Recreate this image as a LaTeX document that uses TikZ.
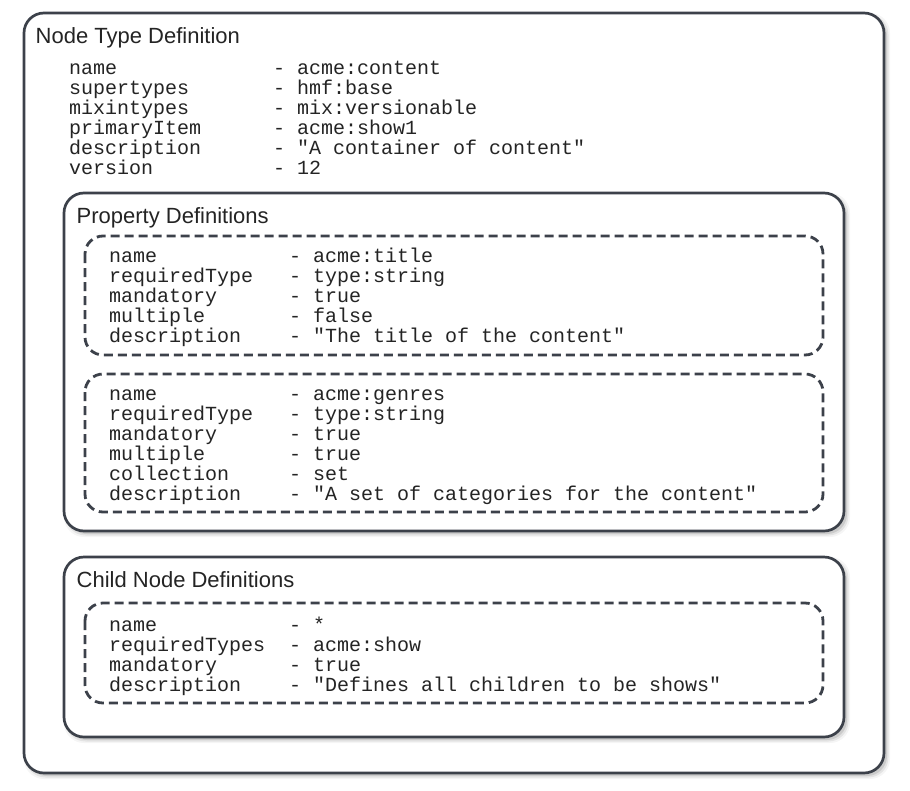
\documentclass[tikz,border=0pt]{standalone}
\usepackage{fontspec}
\setmainfont{Liberation Sans}
\setmonofont{Liberation Mono}
\definecolor{edge}{HTML}{3C414A}
\definecolor{ink}{HTML}{242424}
\tikzset{
  panel/.style={draw=edge, line width=2.7pt, fill=white, rounded corners=20pt},
  group/.style={draw=edge, line width=2.8pt, dash pattern=on 9pt off 5pt, rounded corners=18pt},
  heading/.style={anchor=base west, inner sep=0pt, font=\fontsize{22}{22}\selectfont, text=ink},
  mono/.style={anchor=base west, inner sep=0pt, font=\ttfamily\fontsize{20}{20}\selectfont, text=ink},
}
\newcommand\softshadow[4]{%
  \foreach \k/\o in {0/0.10, 1.5/0.07, 3/0.04}{%
    \fill[black, opacity=\o, rounded corners=20pt] ({#1+3-\k},{#2+3-\k}) rectangle ({#3+3+\k},{#4+3+\k});
  }%
}
\begin{document}
\begin{tikzpicture}[x=1pt, y=-1pt]
\useasboundingbox[fill=white] (0,0) rectangle (910,790);

% outer panel
\softshadow{24}{13}{884}{773}
\draw[panel] (24,13) rectangle (884,773);
\node[heading] (t0) at (35.5,43.3) {Node Type Definition};
\foreach \i/\lab/\val in {0/name/acme:content, 1/supertypes/hmf:base, 2/mixintypes/mix:versionable,
  3/primaryItem/acme:show1, 4/description/"A container of content", 5/version/12}{
  \node[mono] (a\i) at (69,{74+20*\i}) {\lab};
  \node[mono] (av\i) at (273,{74+20*\i}) {- \val};
}

% property definitions
\softshadow{64}{193}{844}{531}
\draw[panel] (64,193) rectangle (844,531);
\node[heading] (t1) at (76.5,223) {Property Definitions};
\draw[group] (85,236) rectangle (823,355);
\foreach \i/\lab/\val in {0/name/acme:title, 1/requiredType/type:string, 2/mandatory/true,
  3/multiple/false, 4/description/"The title of the content"}{
  \node[mono] (b\i) at (109,{262+20*\i}) {\lab};
  \node[mono] (bv\i) at (289,{262+20*\i}) {- \val};
}
\draw[group] (85,374) rectangle (823,512);
\foreach \i/\lab/\val in {0/name/acme:genres, 1/requiredType/type:string, 2/mandatory/true,
  3/multiple/true, 4/collection/set, 5/description/"A set of categories for the content"}{
  \node[mono] (c\i) at (109,{400+20*\i}) {\lab};
  \node[mono] (cv\i) at (289,{400+20*\i}) {- \val};
}

% child node definitions
\softshadow{64}{557}{844}{737}
\draw[panel] (64,557) rectangle (844,737);
\node[heading] (t2) at (76.5,587) {Child Node Definitions};
\draw[group] (85,603) rectangle (823,703);
\foreach \i/\lab/\val in {0/name/*, 1/requiredTypes/acme:show, 2/mandatory/true,
  3/description/"Defines all children to be shows"}{
  \node[mono] (d\i) at (109,{631+20*\i}) {\lab};
  \node[mono] (dv\i) at (289,{631+20*\i}) {- \val};
}
\end{tikzpicture}
\end{document}
